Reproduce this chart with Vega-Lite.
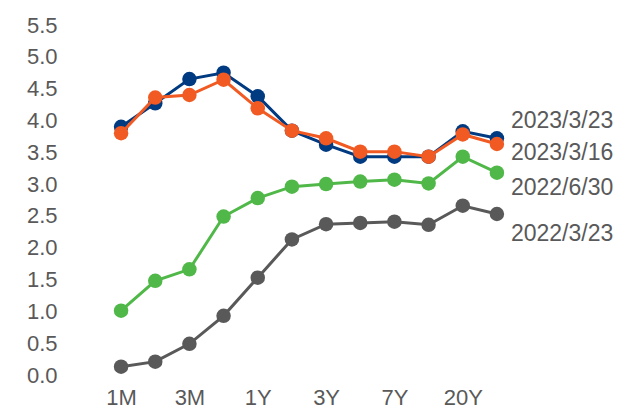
{
  "$schema": "https://vega.github.io/schema/vega-lite/v6.json",
  "width": 410,
  "height": 350,
  "autosize": "none",
  "padding": {"left": 104, "top": 25, "right": 107, "bottom": 37},
  "background": "white",
  "config": {"view": {"stroke": null}, "font": "Liberation Sans"},
  "data": {"values": [
    {"date": "2023/3/23", "tenor": "1M", "rate": 3.90},
    {"date": "2023/3/23", "tenor": "2M", "rate": 4.27},
    {"date": "2023/3/23", "tenor": "3M", "rate": 4.65},
    {"date": "2023/3/23", "tenor": "6M", "rate": 4.75},
    {"date": "2023/3/23", "tenor": "1Y", "rate": 4.38},
    {"date": "2023/3/23", "tenor": "2Y", "rate": 3.84},
    {"date": "2023/3/23", "tenor": "3Y", "rate": 3.62},
    {"date": "2023/3/23", "tenor": "5Y", "rate": 3.43},
    {"date": "2023/3/23", "tenor": "7Y", "rate": 3.43},
    {"date": "2023/3/23", "tenor": "10Y", "rate": 3.43},
    {"date": "2023/3/23", "tenor": "20Y", "rate": 3.83},
    {"date": "2023/3/23", "tenor": "30Y", "rate": 3.72},
    {"date": "2023/3/16", "tenor": "1M", "rate": 3.80},
    {"date": "2023/3/16", "tenor": "2M", "rate": 4.36},
    {"date": "2023/3/16", "tenor": "3M", "rate": 4.40},
    {"date": "2023/3/16", "tenor": "6M", "rate": 4.64},
    {"date": "2023/3/16", "tenor": "1Y", "rate": 4.19},
    {"date": "2023/3/16", "tenor": "2Y", "rate": 3.84},
    {"date": "2023/3/16", "tenor": "3Y", "rate": 3.72},
    {"date": "2023/3/16", "tenor": "5Y", "rate": 3.51},
    {"date": "2023/3/16", "tenor": "7Y", "rate": 3.51},
    {"date": "2023/3/16", "tenor": "10Y", "rate": 3.43},
    {"date": "2023/3/16", "tenor": "20Y", "rate": 3.78},
    {"date": "2023/3/16", "tenor": "30Y", "rate": 3.63},
    {"date": "2022/6/30", "tenor": "1M", "rate": 1.01},
    {"date": "2022/6/30", "tenor": "2M", "rate": 1.48},
    {"date": "2022/6/30", "tenor": "3M", "rate": 1.66},
    {"date": "2022/6/30", "tenor": "6M", "rate": 2.49},
    {"date": "2022/6/30", "tenor": "1Y", "rate": 2.78},
    {"date": "2022/6/30", "tenor": "2Y", "rate": 2.96},
    {"date": "2022/6/30", "tenor": "3Y", "rate": 3.00},
    {"date": "2022/6/30", "tenor": "5Y", "rate": 3.04},
    {"date": "2022/6/30", "tenor": "7Y", "rate": 3.07},
    {"date": "2022/6/30", "tenor": "10Y", "rate": 3.01},
    {"date": "2022/6/30", "tenor": "20Y", "rate": 3.43},
    {"date": "2022/6/30", "tenor": "30Y", "rate": 3.18},
    {"date": "2022/3/23", "tenor": "1M", "rate": 0.13},
    {"date": "2022/3/23", "tenor": "2M", "rate": 0.21},
    {"date": "2022/3/23", "tenor": "3M", "rate": 0.49},
    {"date": "2022/3/23", "tenor": "6M", "rate": 0.93},
    {"date": "2022/3/23", "tenor": "1Y", "rate": 1.53},
    {"date": "2022/3/23", "tenor": "2Y", "rate": 2.13},
    {"date": "2022/3/23", "tenor": "3Y", "rate": 2.37},
    {"date": "2022/3/23", "tenor": "5Y", "rate": 2.39},
    {"date": "2022/3/23", "tenor": "7Y", "rate": 2.41},
    {"date": "2022/3/23", "tenor": "10Y", "rate": 2.36},
    {"date": "2022/3/23", "tenor": "20Y", "rate": 2.66},
    {"date": "2022/3/23", "tenor": "30Y", "rate": 2.53}
  ]},
  "encoding": {
    "x": {
      "field": "tenor", "type": "ordinal",
      "sort": ["1M","2M","3M","6M","1Y","2Y","3Y","5Y","7Y","10Y","20Y","30Y"],
      "scale": {"type": "point", "padding": 0.5},
      "axis": {"title": null, "labelAngle": 0, "ticks": false, "domain": false, "grid": false,
               "values": ["1M","3M","1Y","3Y","7Y","20Y"],
               "labelFontSize": 22, "labelColor": "#595959", "labelPadding": 12}
    },
    "y": {
      "field": "rate", "type": "quantitative",
      "scale": {"domain": [0, 5.5], "nice": false, "zero": true},
      "axis": {"title": null, "ticks": false, "domain": false, "grid": false,
               "values": [0,0.5,1,1.5,2,2.5,3,3.5,4,4.5,5,5.5], "format": ".1f",
               "labelFontSize": 22, "labelColor": "#595959", "labelPadding": 47}
    }
  },
  "layer": [
    {"transform": [{"filter": "datum.date === '2022/3/23'"}],
     "mark": {"type": "line", "color": "#595959", "strokeWidth": 3, "point": {"filled": true, "size": 210, "color": "#595959", "opacity": 1}}},
    {"transform": [{"filter": "datum.date === '2022/6/30'"}],
     "mark": {"type": "line", "color": "#50B848", "strokeWidth": 3, "point": {"filled": true, "size": 210, "color": "#50B848", "opacity": 1}}},
    {"transform": [{"filter": "datum.date === '2023/3/23'"}],
     "mark": {"type": "line", "color": "#003A80", "strokeWidth": 3, "point": {"filled": true, "size": 210, "color": "#003A80", "opacity": 1}}},
    {"transform": [{"filter": "datum.date === '2023/3/16'"}],
     "mark": {"type": "line", "color": "#F15A22", "strokeWidth": 3, "point": {"filled": true, "size": 210, "color": "#F15A22", "opacity": 1}}},
    {"transform": [{"filter": "datum.date === '2023/3/23' && datum.tenor === '30Y'"}],
     "mark": {"type": "text", "align": "left", "baseline": "middle", "dx": 14, "dy": -17, "fontSize": 23, "color": "#595959"},
     "encoding": {"text": {"field": "date"}}},
    {"transform": [{"filter": "datum.date === '2023/3/16' && datum.tenor === '30Y'"}],
     "mark": {"type": "text", "align": "left", "baseline": "middle", "dx": 14, "dy": 9, "fontSize": 23, "color": "#595959"},
     "encoding": {"text": {"field": "date"}}},
    {"transform": [{"filter": "datum.date === '2022/6/30' && datum.tenor === '30Y'"}],
     "mark": {"type": "text", "align": "left", "baseline": "middle", "dx": 14, "dy": 15, "fontSize": 23, "color": "#595959"},
     "encoding": {"text": {"field": "date"}}},
    {"transform": [{"filter": "datum.date === '2022/3/23' && datum.tenor === '30Y'"}],
     "mark": {"type": "text", "align": "left", "baseline": "middle", "dx": 14, "dy": 20, "fontSize": 23, "color": "#595959"},
     "encoding": {"text": {"field": "date"}}}
  ]
}
